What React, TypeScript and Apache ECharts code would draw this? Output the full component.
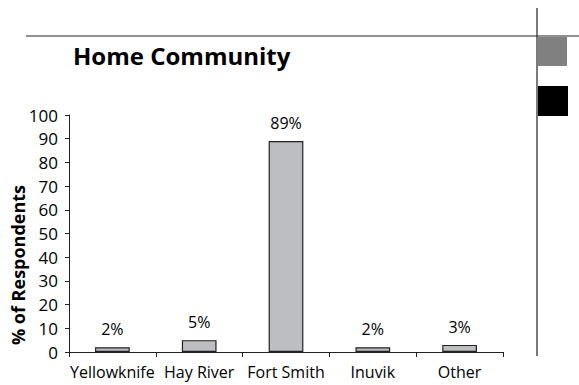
import React, { useEffect, useRef } from "react";
import * as echarts from "echarts";

const categories = ["Yellowknife", "Hay River", "Fort Smith", "Inuvik", "Other"];
const values = [2, 5, 89, 2, 3];
const yTicks = { min: 0, max: 100, interval: 10 };
const titleText = "Home Community";
const yAxisTitle = "% of Respondents";

const FONT = "'Open Sans', 'Noto Sans', sans-serif";

export default function App() {
  const ref = useRef<HTMLDivElement>(null);
  useEffect(() => {
    if (!ref.current) return;
    const chart = echarts.init(ref.current, undefined, { renderer: "svg" });
    chart.setOption({
      animation: false,
      backgroundColor: "#ffffff",
      grid: { left: 69, right: 76, top: 115, bottom: 33, containLabel: false },
      xAxis: {
        type: "category",
        data: categories,
        axisLine: { lineStyle: { color: "#222", width: 1 } },
        axisTick: { show: true, length: 5, lineStyle: { color: "#222" } },
        axisLabel: { color: "#000", fontFamily: FONT, fontSize: 16, margin: 12, interval: 0 },
      },
      yAxis: {
        type: "value",
        min: yTicks.min,
        max: yTicks.max,
        interval: yTicks.interval,
        axisLine: { show: true, lineStyle: { color: "#222", width: 1 } },
        axisTick: { show: true, length: 4, lineStyle: { color: "#222" } },
        axisLabel: { color: "#000", fontFamily: FONT, fontSize: 17, margin: 11 },
        splitLine: { show: false },
      },
      series: [
        {
          type: "bar",
          data: values,
          barWidth: "40%",
          itemStyle: { color: "#bdbec2", borderColor: "#222", borderWidth: 1.2 },
          label: {
            show: true,
            position: "top",
            distance: 10,
            formatter: "{c}%",
            color: "#000",
            fontFamily: FONT,
            fontSize: 16,
          },
        },
      ],
      graphic: [
        { type: "line", shape: { x1: 26, y1: 36, x2: 579, y2: 36 }, style: { stroke: "#222", lineWidth: 1 } },
        { type: "line", shape: { x1: 537, y1: 8, x2: 537, y2: 356 }, style: { stroke: "#222", lineWidth: 1.2 } },
        { type: "rect", shape: { x: 538, y: 37, width: 29, height: 29 }, style: { fill: "#808080" } },
        { type: "rect", shape: { x: 538, y: 86, width: 30, height: 30 }, style: { fill: "#000000" } },
        {
          type: "text",
          left: 73,
          top: 43,
          style: { text: titleText, fill: "#000", font: `bold 24px ${FONT}` },
        },
        {
          type: "text",
          x: 18,
          y: 265,
          rotation: Math.PI / 2,
          style: {
            text: yAxisTitle,
            fill: "#000",
            font: `bold 18px ${FONT}`,
            align: "center",
            verticalAlign: "middle",
          },
        },
      ],
    });
    return () => chart.dispose();
  }, []);
  return (
    <div
      ref={ref}
      style={{ position: "fixed", left: 0, top: 0, width: 579, height: 385 }}
    />
  );
}
